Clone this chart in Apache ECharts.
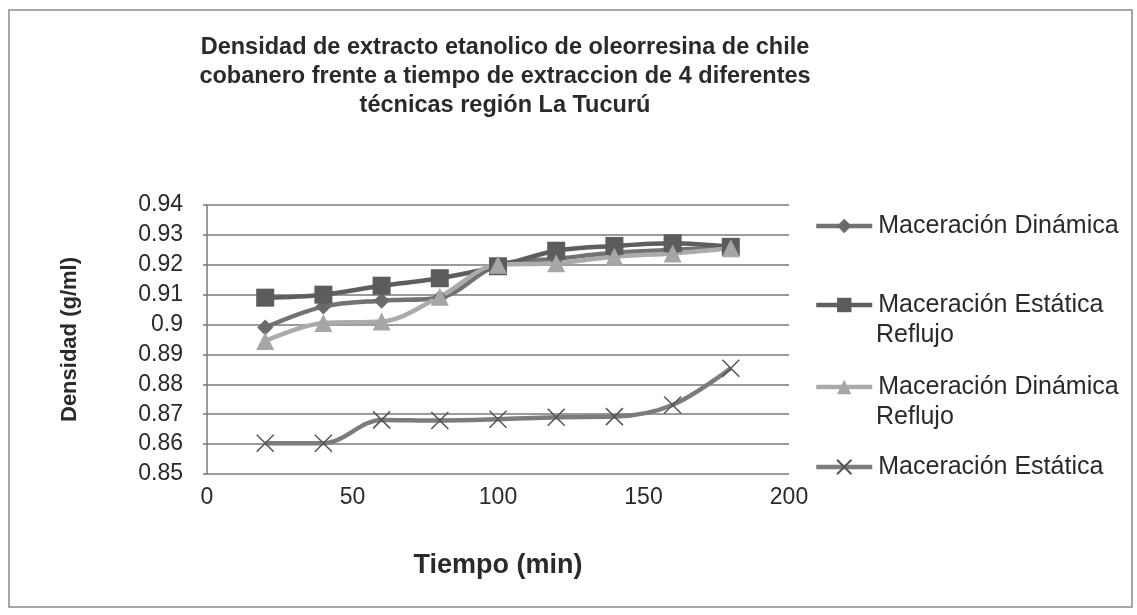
<!DOCTYPE html>
<html>
<head>
<meta charset="utf-8">
<script src="https://cdn.jsdelivr.net/npm/echarts@6/dist/echarts.min.js"></script>
<style>
html,body{margin:0;padding:0;background:#fff;}
#c{width:1137px;height:615px;}
</style>
</head>
<body>
<div id="c"></div>
<script>
const times = [20, 40, 60, 80, 100, 120, 140, 160, 180];
const seriesNames = ['Maceración Dinámica', 'Maceración Estática Reflujo', 'Maceración Dinámica Reflujo', 'Maceración Estática'];
const legendLine1 = ['Maceración Dinámica', 'Maceración Estática', 'Maceración Dinámica', 'Maceración Estática'];
const legendLine2 = ['', 'Reflujo', 'Reflujo', ''];
const dinamica = [0.899, 0.906, 0.908, 0.909, 0.920, 0.922, 0.924, 0.925, 0.926];
const estaticaReflujo = [0.909, 0.910, 0.913, 0.9155, 0.9195, 0.9247, 0.9263, 0.9272, 0.926];
const dinamicaReflujo = [0.8945, 0.9005, 0.901, 0.9093, 0.920, 0.9205, 0.9227, 0.9238, 0.9255];
const estatica = [0.8603, 0.8603, 0.8681, 0.8679, 0.8683, 0.869, 0.8692, 0.8731, 0.8854];
const xTicks = [0, 50, 100, 150, 200];
const yTicks = [0.85, 0.86, 0.87, 0.88, 0.89, 0.90, 0.91, 0.92, 0.93, 0.94];

const FONT = '"Liberation Sans", Arial, sans-serif';
const TEXT = '#2a2a2a';
const pair = (arr) => times.map((t, i) => [t, arr[i]]);
const xPath = 'path://M0,0 L10,10 M10,0 L0,10';

const legendRowY = [226, 305, 387, 467];
const LEGEND_LINE_GAP = 30;

const chart = echarts.init(document.getElementById('c'), null, {renderer: 'canvas'});

const legends = seriesNames.map((name, i) => ({
  orient: 'vertical', left: 814, top: legendRowY[i] - 15, padding: 0,
  itemWidth: 56, itemHeight: 18, itemGap: 0,
  data: [{name: name}],
  lineStyle: {width: 4.5},
  formatter: () => legendLine1[i],
  textStyle: {fontFamily: FONT, fontSize: 25, color: TEXT, lineHeight: 30, padding: [0, 0, 0, 1]}
}));

const secondLines = legendLine2.map((t, i) => t ? {
  type: 'text', left: 876, top: legendRowY[i] + LEGEND_LINE_GAP - 15,
  style: {text: t, fontFamily: FONT, fontSize: 25, fill: TEXT, lineHeight: 30}
} : null).filter(Boolean);

const SMOOTH = 0.35;

chart.setOption({
  backgroundColor: '#fff',
  animation: false,
  title: {
    text: 'Densidad de extracto etanolico de oleorresina de chile\ncobanero frente a tiempo de extraccion de 4 diferentes\ntécnicas región La Tucurú',
    left: 500, top: 28, textAlign: 'center',
    textStyle: {fontFamily: FONT, fontSize: 23.5, fontWeight: 'bold', color: TEXT, lineHeight: 29}
  },
  legend: legends,
  graphic: [{
    type: 'rect', shape: {x: 9, y: 10, width: 1123, height: 597},
    style: {fill: 'none', stroke: '#8a8a8a', lineWidth: 1.5}, z: -1
  }].concat(secondLines),
  grid: {left: 207, right: 348, top: 205, bottom: 141},
  xAxis: {
    type: 'value', min: 0, max: 200, interval: 50,
    name: 'Tiempo (min)', nameLocation: 'middle', nameGap: 78,
    nameTextStyle: {fontFamily: FONT, fontSize: 27, fontWeight: 'bold', color: TEXT},
    axisLine: {show: false},
    axisTick: {show: false},
    splitLine: {show: false},
    axisLabel: {fontFamily: FONT, fontSize: 23, color: TEXT, margin: 12,
      formatter: (v) => xTicks.includes(v) ? String(v) : ''}
  },
  yAxis: {
    type: 'value', min: 0.85, max: 0.94, interval: 0.01,
    name: 'Densidad (g/ml)', nameLocation: 'middle', nameGap: 126, nameRotate: 90,
    nameTextStyle: {fontFamily: FONT, fontSize: 22, fontWeight: 'bold', color: TEXT},
    axisLine: {show: true, lineStyle: {color: '#7a7a7a', width: 1.5}},
    axisTick: {show: true, length: 4, lineStyle: {color: '#7a7a7a', width: 1.5}},
    splitLine: {show: true, lineStyle: {color: '#7a7a7a', width: 1.5}},
    axisLabel: {fontFamily: FONT, fontSize: 23, color: TEXT, margin: 24,
      formatter: (v) => {
        const r = Math.round(v * 100) / 100;
        return yTicks.some(t => Math.abs(t - r) < 1e-9) ? String(r) : '';
      }}
  },
  series: [
    {
      name: seriesNames[0], type: 'line', data: pair(dinamica), smooth: SMOOTH,
      symbol: 'diamond', symbolSize: 16,
      lineStyle: {color: '#727272', width: 4.5},
      itemStyle: {color: '#6a6a6a'}
    },
    {
      name: seriesNames[1], type: 'line', data: pair(estaticaReflujo), smooth: SMOOTH,
      symbol: 'rect', symbolSize: 18,
      lineStyle: {color: '#5e5e5e', width: 4.5},
      itemStyle: {color: '#5c5c5c'}
    },
    {
      name: seriesNames[2], type: 'line', data: pair(dinamicaReflujo), smooth: SMOOTH,
      symbol: 'triangle', symbolSize: 18,
      lineStyle: {color: '#ababab', width: 4.5},
      itemStyle: {color: '#a6a6a6'}
    },
    {
      name: seriesNames[3], type: 'line', data: pair(estatica), smooth: SMOOTH,
      symbol: xPath, symbolSize: 17,
      lineStyle: {color: '#7c7c7c', width: 4.5},
      itemStyle: {color: '#555555', borderColor: '#555555', borderWidth: 1.5}
    }
  ]
});
</script>
</body>
</html>
